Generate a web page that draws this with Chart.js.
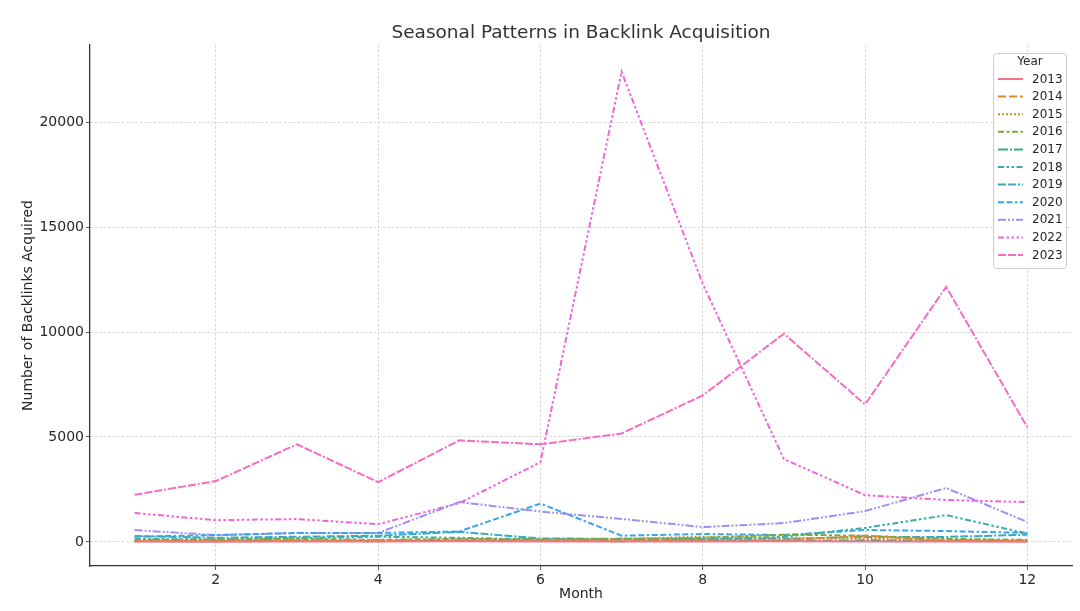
<!DOCTYPE html>
<html>
<head>
<meta charset="utf-8">
<script src="https://cdn.jsdelivr.net/npm/chart.js@4.4.1/dist/chart.umd.min.js"></script>
<style>
  html, body { margin: 0; padding: 0; background: #fff; }
  #wrap { width: 1080px; height: 611px; }
</style>
</head>
<body>
<div id="wrap"><canvas id="chart" width="1080" height="611"></canvas></div>
<script>
// DATA
const months = [1, 2, 3, 4, 5, 6, 7, 8, 9, 10, 11, 12];
const years = ['2013', '2014', '2015', '2016', '2017', '2018', '2019', '2020', '2021', '2022', '2023'];

const y2013 = [20, 15, 25, 20, 30, 20, 25, 20, 30, 25, 20, 15];
const y2014 = [40, 60, 50, 40, 60, 50, 40, 60, 80, 300, 60, 50];
const y2015 = [60, 80, 100, 90, 120, 100, 150, 250, 200, 150, 100, 80];
const y2016 = [100, 120, 150, 100, 150, 120, 130, 200, 350, 300, 150, 100];
const y2017 = [30, 40, 50, 40, 60, 50, 40, 60, 50, 80, 60, 50];
const y2018 = [150, 120, 180, 250, 200, 120, 150, 120, 250, 670, 1280, 400];
const y2019 = [280, 200, 250, 300, 480, 170, 150, 150, 150, 240, 240, 350];
const y2020 = [250, 330, 430, 430, 500, 1830, 300, 380, 330, 570, 520, 430];
const y2021 = [570, 330, 430, 430, 1900, 1450, 1100, 710, 900, 1470, 2570, 950];
const y2022 = [1380, 1040, 1090, 850, 1850, 3800, 22400, 12300, 3950, 2230, 2000, 1900];
const y2023 = [2250, 2900, 4650, 2850, 4840, 4650, 5170, 6980, 9920, 6550, 12150, 5460];

const yTicks = [0, 5000, 10000, 15000, 20000];
const xTicks = [2, 4, 6, 8, 10, 12];

const series = [y2013, y2014, y2015, y2016, y2017, y2018, y2019, y2020, y2021, y2022, y2023];
const colors = ['#f77189', '#dc8932', '#ae9d31', '#77ab31', '#33b07a', '#36ada4',
                '#38a9c5', '#3ba3ec', '#a48cf4', '#f461dd', '#f66bc4'];
// seaborn style dash patterns (in linewidth units)
const dashes = [
    [],
    [4, 1.5],
    [1, 1],
    [3, 1.25, 1.5, 1.25],
    [5, 1, 1, 1],
    [3, 1.25, 1.25, 1.25, 1.25, 1.25],
    [4, 1, 4, 1, 1, 1],
    [3, 1.25, 3, 1.25, 1.25, 1.25],
    [4, 1, 1, 1, 1, 1],
    [3, 1.25, 1.25, 1.25, 1.25, 1.25, 1.25, 1.25],
    [4, 1, 4, 1, 4, 1, 1, 1]
];
const LW = 2;

const textColor = '#262626';
const font = "'DejaVu Sans', sans-serif";

// title centred over the plot area, like matplotlib
const plotTitle = {
    id: 'plotTitle',
    afterDraw(chart) {
        const c = chart.ctx, a = chart.chartArea;
        c.save();
        c.fillStyle = '#333333';
        c.font = '18.5px ' + font;
        c.textAlign = 'center';
        c.textBaseline = 'middle';
        c.fillText('Seasonal Patterns in Backlink Acquisition', (a.left + a.right) / 2, 33);
        c.restore();
    }
};

// legend drawn inside the plot, top right
const insideLegend = {
    id: 'insideLegend',
    afterDraw(chart) {
        const c = chart.ctx;
        const x0 = 993, y0 = 53, w = 73, h = 215;
        c.save();
        c.fillStyle = 'rgba(255,255,255,0.85)';
        c.strokeStyle = '#cccccc';
        c.lineWidth = 1;
        c.beginPath();
        c.roundRect(x0 + 0.5, y0 + 0.5, w, h, 3);
        c.fill();
        c.stroke();
        c.fillStyle = textColor;
        c.font = '12px ' + font;
        c.textAlign = 'center';
        c.textBaseline = 'middle';
        c.fillText('Year', 1030, 62);
        chart.data.datasets.forEach((ds, i) => {
            const y = 79 + i * 17.6;
            c.strokeStyle = ds.borderColor;
            c.lineWidth = ds.borderWidth;
            c.setLineDash(ds.borderDash);
            c.beginPath();
            c.moveTo(998, y);
            c.lineTo(1023, y);
            c.stroke();
            c.setLineDash([]);
            c.textAlign = 'left';
            c.fillText(ds.label, 1032, y + 0.5);
        });
        c.restore();
    }
};

var ctx = document.getElementById('chart').getContext('2d');
var myChart = new Chart(ctx, {
    type: 'line',
    data: {
        datasets: series.map((s, i) => ({
            label: years[i],
            data: months.map((m, k) => ({ x: m, y: s[k] })),
            borderColor: colors[i],
            backgroundColor: colors[i],
            borderWidth: LW,
            borderDash: dashes[i].map(d => d * LW),
            pointRadius: 0,
            fill: false,
            tension: 0
        }))
    },
    options: {
        responsive: false,
        animation: false,
        layout: { padding: { left: 10, right: 8, top: 45, bottom: 0 } },
        scales: {
            x: {
                type: 'linear',
                min: 0.45,
                max: 12.55,
                afterBuildTicks: (scale) => { scale.ticks = xTicks.map(v => ({ value: v })); },
                afterFit: (scale) => { scale.height = 45; },
                ticks: { color: textColor, font: { family: font, size: 14 }, padding: 2, maxRotation: 0,
                         callback: (v) => String(v) },
                grid: { color: '#cccccc', lineWidth: 0.8, tickColor: '#333', tickLength: 4, tickBorderDash: [] },
                border: { display: true, color: '#333', width: 1.3, dash: [2.5, 2] },
                title: { display: true, text: 'Month', color: textColor, font: { family: font, size: 14 }, padding: { top: 0, bottom: 8 } }
            },
            y: {
                min: -1143,
                max: 23667,
                afterBuildTicks: (scale) => { scale.ticks = yTicks.map(v => ({ value: v })); },
                afterFit: (scale) => { scale.width = 80; },
                ticks: { color: textColor, font: { family: font, size: 14 }, padding: 2,
                         callback: (v) => String(v) },
                grid: { color: '#cccccc', lineWidth: 0.8, tickColor: '#333', tickLength: 4, tickBorderDash: [] },
                border: { display: true, color: '#333', width: 1.3, dash: [2.5, 2] },
                title: { display: true, text: 'Number of Backlinks Acquired', color: textColor, font: { family: font, size: 14 }, padding: { top: 10, bottom: 0 } }
            }
        },
        plugins: {
            title: { display: false },
            legend: { display: false },
            tooltip: { enabled: false }
        }
    },
    plugins: [plotTitle, insideLegend]
});
</script>
</body>
</html>
